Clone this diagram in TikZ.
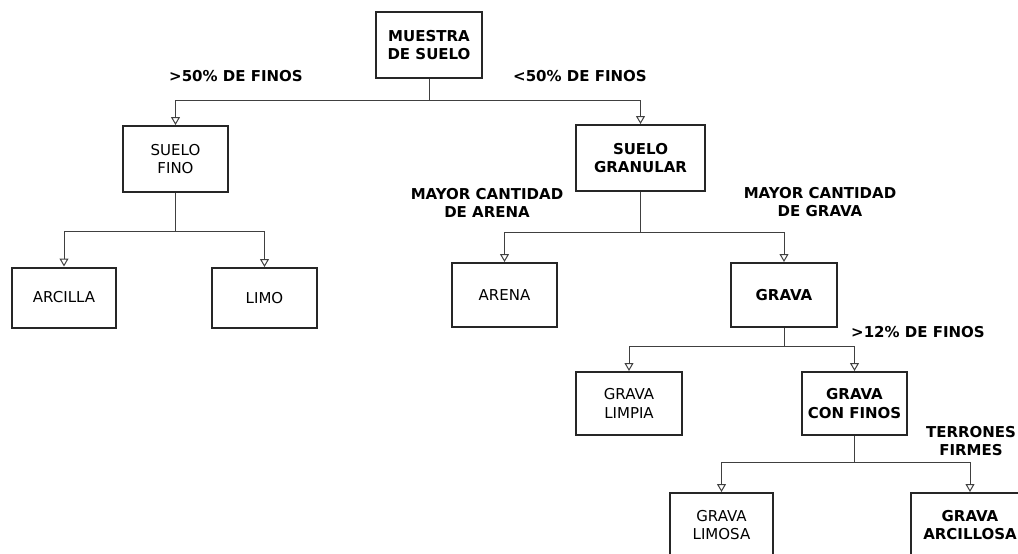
\documentclass[tikz,border=0pt]{standalone}
\usepackage{fontspec}
\setmainfont{DejaVu Sans}
\usetikzlibrary{arrows.meta, positioning, calc}

\begin{document}
\begin{tikzpicture}[x=1pt, y=-1pt,
		caja/.style={draw=black!85, line width=2pt, fill=white, align=center, inner sep=2pt,
			font=\fontsize{15}{18.5}\selectfont},
		cajab/.style={caja, font=\fontsize{15}{18.5}\selectfont\bfseries},
		etiq/.style={align=center, inner sep=0pt, font=\fontsize{15}{18.5}\selectfont\bfseries},
		flecha/.style={draw=black!75, line width=1pt, -{Triangle[open, length=8pt, width=9pt]}}]
		% Frame (the sample is cut at right and bottom)
		\useasboundingbox (0,0) rectangle (1018,554);
		\clip (0,0) rectangle (1018,554);
		
		% Boxes
		\node[cajab, minimum width=106pt, minimum height=66pt] (muestra) at (429,45) {MUESTRA\\DE SUELO};
		\node[caja, minimum width=105pt, minimum height=66pt] (fino) at (175.5,159) {SUELO\\FINO};
		\node[cajab, minimum width=129pt, minimum height=66pt] (granular) at (640.5,158) {SUELO\\GRANULAR};
		\node[caja, minimum width=104pt, minimum height=60pt] (arcilla) at (64,297.5) {ARCILLA};
		\node[caja, minimum width=105pt, minimum height=60pt] (limo) at (264.5,298) {LIMO};
		\node[caja, minimum width=105pt, minimum height=64pt] (arena) at (504.5,295) {ARENA};
		\node[cajab, minimum width=106pt, minimum height=64pt] (grava) at (784,295) {GRAVA};
		\node[caja, minimum width=106pt, minimum height=63pt] (limpia) at (629,403.5) {GRAVA\\LIMPIA};
		\node[cajab, minimum width=105pt, minimum height=63pt] (confinos) at (854.5,403.5) {GRAVA\\CON FINOS};
		\node[caja, minimum width=103pt, minimum height=64pt] (limosa) at (721.5,525) {GRAVA\\LIMOSA};
		\node[cajab, minimum width=118pt, minimum height=64pt] (arcillosa) at (970,525) {GRAVA\\ARCILLOSA};
		
		% Branch points
		\coordinate (j1) at (429,100);
		\coordinate (j2) at (175.5,231);
		\coordinate (j3) at (640.5,232);
		\coordinate (j4) at (784,346);
		\coordinate (j5) at (854.5,462);
		
		% Connectors
		\draw[flecha] (muestra) -- (j1) -| (fino);
		\draw[flecha] (j1) -| (granular);
		\draw[flecha] (fino) -- (j2) -| (arcilla);
		\draw[flecha] (j2) -| (limo);
		\draw[flecha] (granular) -- (j3) -| (arena);
		\draw[flecha] (j3) -| (grava);
		\draw[flecha] (grava) -- (j4) -| (limpia);
		\draw[flecha] (j4) -| (confinos);
		\draw[flecha] (confinos) -- (j5) -| (limosa);
		\draw[flecha] (j5) -| (arcillosa);
		
		% Labels
		\node[etiq] (mas50) at (236,76) {>50\% DE FINOS};
		\node[etiq] (menos50) at (580,76) {<50\% DE FINOS};
		\node[etiq] (arenosa) at (487,203) {MAYOR CANTIDAD\\DE ARENA};
		\node[etiq] (gravosa) at (820,202) {MAYOR CANTIDAD\\DE GRAVA};
		\node[etiq] (mas12) at (918,332) {>12\% DE FINOS};
		\node[etiq] (terrones) at (971,441) {TERRONES\\FIRMES};
	\end{tikzpicture}
\end{document}
